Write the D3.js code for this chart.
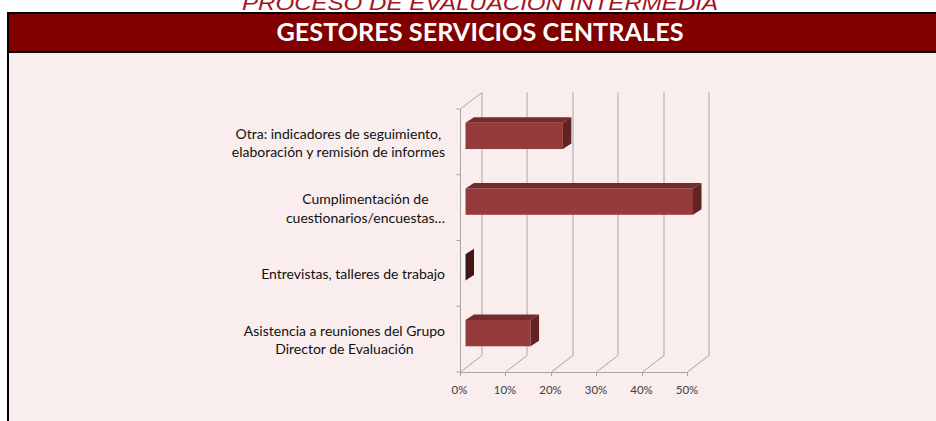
<!DOCTYPE html>
<html>
<head>
<meta charset="utf-8">
<script src="https://cdn.jsdelivr.net/npm/d3@7"></script>
<style>
  body { margin: 0; background: #ffffff; }
  svg { display: block; }
</style>
</head>
<body>
<svg width="936" height="421"></svg>
<script>
// categories from top to bottom, values as shares
const categories = [
  "Otra: indicadores de seguimiento,|elaboración y remisión de informes",
  "Cumplimentación de|cuestionarios/encuestas…",
  "Entrevistas, talleres de trabajo",
  "Asistencia a reuniones del Grupo|Director de Evaluación"
];
const values = [0.214, 0.5, 0, 0.143];
const xTicks = [0, 0.1, 0.2, 0.3, 0.4, 0.5];

const svg = d3.select("svg"),
  width = +svg.attr("width"),
  height = +svg.attr("height");

// page background
svg.append("rect").attr("width", width).attr("height", height).attr("fill", "#ffffff");
svg.append("rect").attr("x", 8).attr("y", 52).attr("width", width).attr("height", height)
  .attr("fill", "#f9eded");

// subtitle cut at the top
svg.append("text")
  .attr("x", 480).attr("y", 9.5)
  .attr("text-anchor", "middle")
  .attr("font-family", "Liberation Sans, Arial, sans-serif")
  .attr("font-style", "italic")
  .attr("font-size", 21)
  .attr("fill", "#a5141e")
  .attr("textLength", 476).attr("lengthAdjust", "spacingAndGlyphs")
  .text("PROCESO DE EVALUACIÓN INTERMEDIA");

// header band
svg.append("rect").attr("x", 7).attr("y", 12).attr("width", 940).attr("height", 41).attr("fill", "#000");
svg.append("rect").attr("x", 9).attr("y", 14).attr("width", 940).attr("height", 37).attr("fill", "#800000");
svg.append("rect").attr("x", 7).attr("y", 52).attr("width", 2).attr("height", height).attr("fill", "#000");
svg.append("text")
  .attr("x", 480).attr("y", 41)
  .attr("text-anchor", "middle")
  .attr("font-family", "Lato, sans-serif")
  .attr("font-weight", "bold")
  .attr("font-size", 24)
  .attr("fill", "#ffffff")
  .attr("textLength", 407).attr("lengthAdjust", "spacingAndGlyphs")
  .text("GESTORES SERVICIOS CENTRALES");

// 3d geometry
const depth = { x: 21.5, y: -16.5 };   // floor / wall depth
const barOff = { x: 6, y: -6 };        // bar front face offset
const barDep = { x: 8.5, y: -5.5 };    // bar thickness

const x = d3.scaleLinear().domain([0, 0.5]).range([459.5, 687]);
const y = d3.scaleBand().domain(categories).range([109, 372]);
const barH = y.bandwidth() * 0.4;

const grid = svg.append("g").attr("stroke", "#a6a6a6").attr("stroke-width", 1).attr("fill", "none");
const floorY = 372;
const topY = 109;

// back wall verticals and floor diagonals
xTicks.forEach((t) => {
  const fx = Math.round(x(t)) + 0.5;
  grid.append("line")
    .attr("x1", fx + depth.x).attr("y1", floorY + depth.y)
    .attr("x2", fx + depth.x).attr("y2", topY + depth.y);
  grid.append("line")
    .attr("x1", fx).attr("y1", floorY)
    .attr("x2", fx + depth.x).attr("y2", floorY + depth.y);
});
// left wall front edge and top
const lx = Math.round(x(0)) + 0.5;
grid.append("line").attr("x1", lx).attr("y1", topY).attr("x2", lx).attr("y2", floorY);
grid.append("line").attr("x1", lx).attr("y1", topY).attr("x2", lx + depth.x).attr("y2", topY + depth.y);
// y ticks
[topY].concat(categories.map((c) => y(c) + y.bandwidth())).forEach((v) => {
  grid.append("line").attr("x1", lx - 4).attr("y1", v).attr("x2", lx).attr("y2", v);
});

// soft highlight left of the bars
const defs = svg.append("defs");
defs.append("filter").attr("id", "blur").append("feGaussianBlur").attr("stdDeviation", 1.2);

const bars = svg.append("g");
categories.forEach((c, i) => {
  const v = values[i];
  const x0 = x(0) + barOff.x;
  const x1 = x(v) + barOff.x;
  const yt = y(c) + y.bandwidth() / 2 - barH / 2 + barOff.y;
  const yb = yt + barH;

  bars.append("rect")
    .attr("x", x0 - 3).attr("y", yt - 3).attr("width", 3).attr("height", barH + 1)
    .attr("fill", "#ffffff").attr("opacity", 0.8).attr("filter", "url(#blur)");

  // front face
  if (v > 0) {
    bars.append("rect")
      .attr("x", x0).attr("y", yt).attr("width", x1 - x0).attr("height", barH)
      .attr("fill", "#953b3b");
    // top face
    bars.append("path")
      .attr("d", d3.line()([[x0, yt], [x0 + barDep.x, yt + barDep.y], [x1 + barDep.x, yt + barDep.y], [x1, yt]]))
      .attr("fill", "#742b2b");
  }
  // side face
  bars.append("path")
    .attr("d", d3.line()([[x1, yt], [x1 + barDep.x, yt + barDep.y], [x1 + barDep.x, yb + barDep.y], [x1, yb]]))
    .attr("fill", v > 0 ? "#632322" : "#411616");
});

// front x axis
const axis = svg.append("g").attr("stroke", "#a6a6a6").attr("stroke-width", 1);
axis.append("line").attr("x1", lx).attr("y1", floorY + 0.5).attr("x2", Math.round(x(0.5)) + 0.5).attr("y2", floorY + 0.5);
xTicks.forEach((t) => {
  const fx = Math.round(x(t)) + 0.5;
  axis.append("line").attr("x1", fx).attr("y1", floorY).attr("x2", fx).attr("y2", floorY + 4);
});

svg.append("g")
  .selectAll("text")
  .data(xTicks)
  .enter()
  .append("text")
  .attr("x", (d) => x(d))
  .attr("y", 394)
  .attr("text-anchor", "middle")
  .attr("font-family", "Lato, sans-serif")
  .attr("font-size", 11.5)
  .attr("fill", "#404040")
  .text((d) => d3.format(".0%")(d));

// category labels: block right aligned, lines centred inside it
const labels = svg.append("g")
  .attr("font-family", "Lato, sans-serif")
  .attr("font-size", 14)
  .attr("fill", "#111111");
categories.forEach((c) => {
  const lines = c.split("|");
  const cy = y(c) + y.bandwidth() / 2 + 1;
  const lh = 18.7;
  const g = labels.append("g");
  const texts = lines.map((l, j) =>
    g.append("text")
      .attr("y", cy + (j - (lines.length - 1) / 2) * lh + 5)
      .attr("text-anchor", "middle")
      .text(l)
  );
  const maxW = d3.max(texts, (t) => t.node().getComputedTextLength());
  texts.forEach((t) => t.attr("x", 445 - maxW / 2));
});
</script>
</body>
</html>
